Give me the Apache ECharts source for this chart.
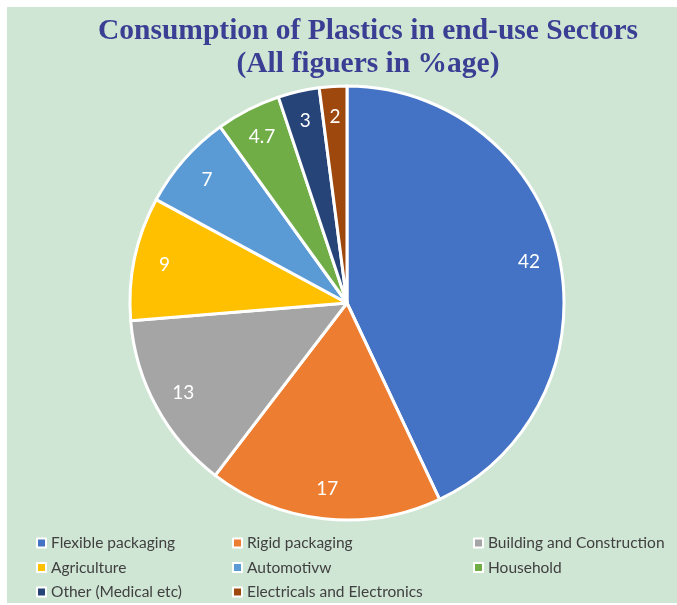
<!DOCTYPE html>
<html>
<head>
<meta charset="utf-8">
<script src="https://cdn.jsdelivr.net/npm/echarts@6/dist/echarts.min.js"></script>
<style>
  html, body { margin: 0; padding: 0; background: #fff; }
  #main { position: absolute; left: 7px; top: 7px; width: 670px; height: 596px; background: #d0e6d5; }
</style>
</head>
<body>
<div id="main"></div>
<script>
// sectors and their share (%)
const sectors = ['Flexible packaging', 'Rigid packaging', 'Building and Construction', 'Agriculture', 'Automotivw', 'Household', 'Other (Medical etc)', 'Electricals and Electronics']
const shares = [42, 17, 13, 9, 7, 4.7, 3, 2]
const colors = ['#4472C4', '#ED7D31', '#A5A5A5', '#FFC000', '#5B9BD5', '#70AD47', '#264478', '#9E480E']
// legend columns (indices into sectors)
const legendCols = [[0, 3, 6], [1, 4, 7], [2, 5]]
const legendLeft = [29, 225, 466]

const chart = echarts.init(document.getElementById('main'))
const pieData = sectors.map((name, i) => ({ name: name, value: shares[i] }))

const option = {
  color: colors,
  title: {
    text: 'Consumption of Plastics in end-use Sectors\n(All figuers in %age)',
    left: 361,
    textAlign: 'center',
    top: 8,
    padding: 0,
    textStyle: {
      fontFamily: 'Liberation Serif',
      fontWeight: 'bold',
      fontSize: 29.5,
      lineHeight: 33,
      color: '#3a3f94'
    }
  },
  legend: legendCols.map((col, k) => ({
    orient: 'vertical',
    left: legendLeft[k],
    top: 528,
    height: 80,
    padding: 0,
    itemWidth: 9,
    itemHeight: 9,
    itemGap: 8.5,
    icon: 'rect',
    selectedMode: false,
    data: col.map(i => sectors[i]),
    textStyle: { fontFamily: 'Lato', fontSize: 15.5, color: '#404040' }
  })),
  series: [
    {
      type: 'pie',
      center: [340, 296],
      radius: [0, 217],
      startAngle: 90,
      clockwise: true,
      silent: true,
      itemStyle: { borderColor: '#ffffff', borderWidth: 3 },
      label: { show: false },
      labelLine: { show: false },
      data: pieData
    },
    {
      // transparent ring only used to place labels near the outer edge
      type: 'pie',
      center: [340, 296],
      radius: [150, 217],
      startAngle: 90,
      clockwise: true,
      silent: true,
      itemStyle: { color: 'transparent', borderWidth: 0 },
      label: {
        show: true,
        position: 'inside',
        formatter: '{c}',
        color: '#ffffff',
        fontFamily: 'Lato',
        fontSize: 19
      },
      labelLine: { show: false },
      data: pieData
    }
  ]
}
chart.setOption(option)
</script>
</body>
</html>
